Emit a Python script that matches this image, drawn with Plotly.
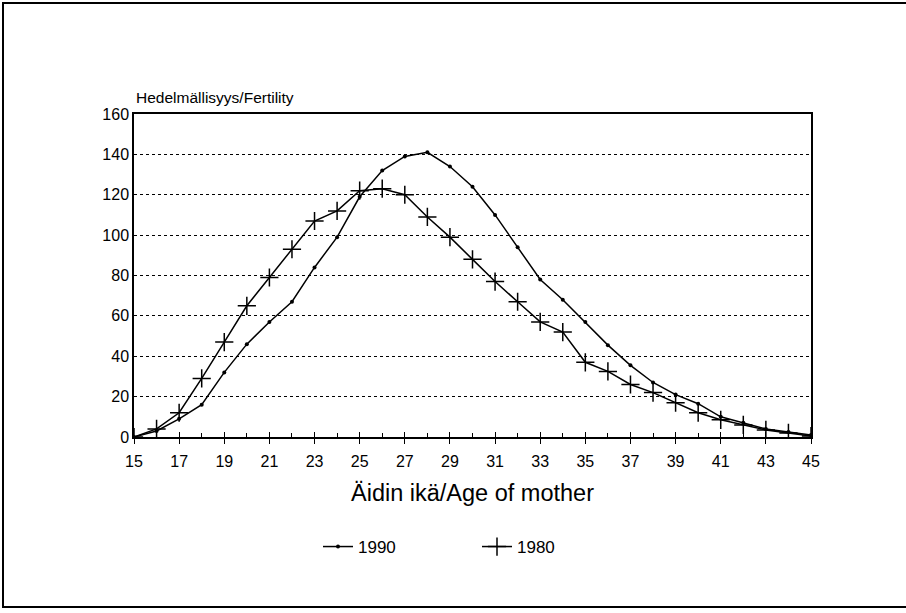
import plotly.graph_objects as go

ages = list(range(15, 46))
fert_1990 = [0, 3, 9, 16, 32, 46, 57, 67, 84, 99, 119, 132, 139, 141, 134, 124,
             110, 94, 78, 68, 57, 45.5, 35.5, 27, 21, 16.5, 10, 7, 4, 2.5, 1]
fert_1980 = [0, 4, 12, 29, 47, 65, 79, 93, 107, 112, 122, 123, 120, 109, 99, 88,
             77, 67, 57, 52, 37, 32.5, 26, 22, 17, 12, 8.5, 6, 3.5, 2, 0.5]
x_ticks = list(range(15, 46, 2))
y_ticks = list(range(0, 161, 20))

FONT = "Liberation Sans, Arial, Helvetica, sans-serif"
L, R, T, B = 134, 811, 114, 437
PW, PH = R - L, B - T

fig = go.Figure()
fig.add_trace(go.Scatter(
    x=ages, y=fert_1990, name="1990", mode="lines+markers",
    line=dict(color="black", width=1.5),
    marker=dict(symbol="circle", size=4, color="black"),
))
fig.add_trace(go.Scatter(
    x=ages, y=fert_1980, name="1980", mode="lines+markers",
    line=dict(color="black", width=1.5),
    marker=dict(symbol="cross-thin", size=13, color="black",
                line=dict(color="black", width=1.5)),
))
# invisible trace to activate overlay axis for crossing ticks
fig.add_trace(go.Scatter(x=[15, 45], y=[0, 0], xaxis="x2", mode="lines",
                         line=dict(width=0), showlegend=False, hoverinfo="skip"))

fig.update_layout(
    width=906, height=613,
    margin=dict(l=L, r=906 - R, t=T, b=613 - B),
    paper_bgcolor="white", plot_bgcolor="white",
    font=dict(family=FONT, color="black", size=14),
    showlegend=True,
    legend=dict(orientation="h", x=(318 - L) / PW, xanchor="left",
                y=-110 / PH, yanchor="middle",
                font=dict(size=17), entrywidth=114, entrywidthmode="pixels"),
    xaxis=dict(range=[15, 45], tickvals=x_ticks, ticks="outside", ticklen=5,
               tickwidth=1.2, tickcolor="black",
               showline=True, linecolor="black", linewidth=1.5, mirror=True,
               showgrid=False, zeroline=False,
               tickfont=dict(size=16), ticklabelstandoff=4,
               minor=dict(tickvals=[a for a in ages if a % 2 == 0], ticks="inside",
                          ticklen=4, tickcolor="black", tickwidth=1.2, showgrid=False),
               title=dict(text="Äidin ikä/Age of mother", font=dict(size=23.5), standoff=16)),
    xaxis2=dict(range=[15, 45], overlaying="x", tickvals=x_ticks, ticks="inside",
                ticklen=5, tickwidth=1.2, tickcolor="black", showticklabels=False,
                showgrid=False, zeroline=False, side="bottom", anchor="y"),
    yaxis=dict(range=[0, 160], tickvals=y_ticks, ticks="",
               showline=True, linecolor="black", linewidth=1.5, mirror=True,
               showgrid=True, gridcolor="black", griddash="dot", gridwidth=1,
               zeroline=False, tickfont=dict(size=16)),
    annotations=[dict(text="Hedelmällisyys/Fertility", xref="paper", yref="paper",
                      x=0, y=1.0, xanchor="left", yanchor="bottom", yshift=6,
                      showarrow=False, font=dict(size=15.5))],
    shapes=[dict(type="rect", xref="paper", yref="paper",
                 x0=(3 - L) / PW, x1=(940 - L) / PW,
                 y0=(B - 607) / PH, y1=(B - 3) / PH,
                 line=dict(color="black", width=2))],
)

fig.write_html("out.html", config={"displayModeBar": False},
               post_script="document.body.style.margin='0';document.body.style.padding='0';")
